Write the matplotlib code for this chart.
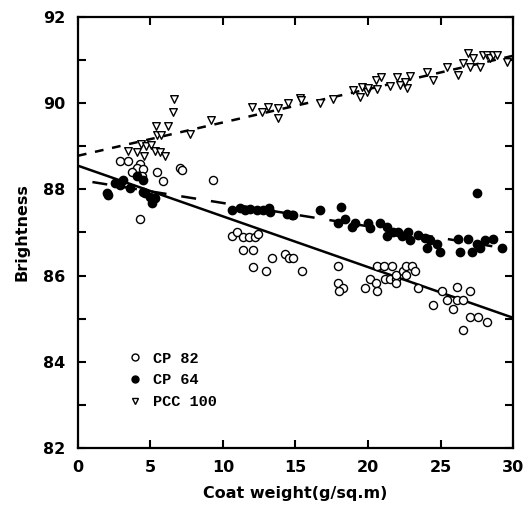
import matplotlib
matplotlib.use("Agg")
import matplotlib.pyplot as plt
from matplotlib.lines import Line2D

# ---------------- data ----------------
pcc_x = [3.47, 4.05, 4.32, 4.55, 4.69, 5.01, 5.31, 5.66, 6.00, 5.38, 6.18, 5.47, 5.70,
         6.57, 6.60, 7.72, 9.20, 11.98, 12.67, 13.13, 13.81, 13.80, 14.50, 15.30, 15.40,
         16.70, 17.60, 19.00, 19.45, 19.56, 19.91, 20.02, 20.60, 20.55, 20.88, 21.50,
         21.98, 22.20, 22.67, 22.55, 22.90, 24.05, 24.46, 25.43, 26.23, 26.57, 26.92,
         27.03, 27.22, 27.72, 27.95, 28.19, 28.41, 28.64, 28.88, 29.57]
pcc_y = [88.90, 88.87, 89.05, 88.77, 89.00, 89.02, 88.90, 88.87, 88.77, 89.47, 89.47, 89.27, 89.27,
         89.80, 90.10, 89.29, 89.60, 89.92, 89.80, 89.92, 89.90, 89.65, 90.00, 90.11, 90.07,
         90.01, 90.10, 90.31, 90.14, 90.38, 90.27, 90.35, 90.32, 90.54, 90.61, 90.40,
         90.61, 90.42, 90.35, 90.50, 90.63, 90.73, 90.54, 90.83, 90.65, 90.94, 91.16,
         90.85, 91.04, 90.85, 91.12, 91.12, 91.04, 91.12, 91.12, 90.96]

cp82_x = [2.90, 3.47, 4.28, 4.05, 4.50, 3.70, 4.39, 5.43, 5.88, 7.03, 7.15, 4.28, 9.33,
          10.60, 10.94, 11.40, 11.80, 12.20, 12.43, 11.36, 12.09, 13.36, 14.28, 14.57, 14.81,
          12.09, 12.97, 15.43, 17.95, 17.91, 18.30, 18.02, 19.79, 20.14, 20.55, 20.64,
          20.64, 21.10, 21.63, 21.17, 21.52, 21.93, 21.93, 21.93, 22.39, 22.62, 23.06,
          23.24, 22.62, 23.47, 24.46, 25.08, 25.43, 25.89, 26.12, 26.12, 26.57, 27.03,
          26.53, 27.03, 27.60, 28.19]
cp82_y = [88.67, 88.67, 88.60, 88.49, 88.47, 88.41, 88.30, 88.41, 88.20, 88.49, 88.45, 87.31, 88.22,
          86.92, 87.00, 86.90, 86.90, 86.90, 86.97, 86.59, 86.59, 86.40, 86.50, 86.40, 86.40,
          86.19, 86.11, 86.11, 86.22, 85.82, 85.71, 85.63, 85.71, 85.91, 85.82, 85.63,
          86.22, 86.22, 86.22, 85.91, 85.91, 85.91, 85.82, 86.01, 86.11, 86.22, 86.22,
          86.11, 86.01, 85.71, 85.32, 85.63, 85.43, 85.23, 85.73, 85.43, 85.43, 85.63,
          84.74, 85.03, 85.03, 84.93]

cp64_x = [1.98, 2.09, 2.55, 2.90, 3.12, 3.59, 4.05, 4.50, 4.50, 4.62, 4.97, 5.31, 5.08,
          10.60, 11.17, 11.52, 11.86, 12.32, 12.78, 13.20, 13.24, 14.39, 14.74, 14.85,
          16.69, 18.11, 17.95, 18.41, 18.87, 19.10, 20.02, 20.14, 20.83, 21.29, 21.29,
          21.75, 22.09, 22.32, 22.78, 22.90, 23.47, 23.93, 24.28, 24.05, 24.74, 24.97,
          26.23, 26.34, 26.92, 27.15, 27.49, 27.72, 28.07, 28.64, 29.22, 27.54]
cp64_y = [87.91, 87.87, 88.14, 88.10, 88.22, 88.03, 88.30, 88.22, 87.95, 87.91, 87.83, 87.79, 87.69,
          87.51, 87.56, 87.52, 87.54, 87.51, 87.52, 87.56, 87.48, 87.43, 87.41, 87.41,
          87.52, 87.60, 87.23, 87.31, 87.13, 87.23, 87.23, 87.10, 87.23, 87.12, 86.92,
          87.02, 87.02, 86.92, 87.02, 86.83, 86.94, 86.87, 86.83, 86.63, 86.73, 86.55,
          86.84, 86.55, 86.84, 86.55, 86.73, 86.63, 86.83, 86.84, 86.63, 87.92]

# fitted lines (end points)
pcc_line_x = [0, 30]
pcc_line_y = [88.78, 91.10]
cp82_line_x = [0, 30]
cp82_line_y = [88.55, 85.02]
cp64_line_x = [1.0, 29.5]
cp64_line_y = [88.17, 86.63]

labels = ["CP 82", "CP 64", "PCC 100"]
x_ticks = [0, 5, 10, 15, 20, 25, 30]
y_ticks = [82, 83, 84, 85, 86, 87, 88, 89, 90, 91, 92]
y_ticklabels = ["82", "", "84", "", "86", "", "88", "", "90", "", "92"]

# ---------------- figure ----------------
fig = plt.figure(figsize=(5.30, 5.16), dpi=100)
ax = fig.add_axes([0.147, 0.132, 0.821, 0.835])

ax.plot(pcc_line_x, pcc_line_y, color="black", lw=1.8, dashes=(3.5, 3.5))
ax.plot(cp82_line_x, cp82_line_y, color="black", lw=1.8)
ax.plot(cp64_line_x, cp64_line_y, color="black", lw=1.8, dashes=(6, 6))

ax.scatter(cp82_x, cp82_y, s=34, facecolors="white", edgecolors="black", linewidths=1.0, zorder=3)
ax.scatter(cp64_x, cp64_y, s=36, facecolors="black", edgecolors="black", linewidths=1.0, zorder=3)
ax.scatter(pcc_x, pcc_y, s=30, marker="v", facecolors="white", edgecolors="black", linewidths=1.0, zorder=3)

ax.set_xlim(0, 30)
ax.set_ylim(82, 92)
ax.set_xticks(x_ticks)
ax.set_yticks(y_ticks)
ax.set_yticklabels(y_ticklabels)
ax.tick_params(direction="in", top=True, right=True, length=6, width=1.5,
               labelsize=11.5, pad=9)
for lab in ax.get_xticklabels() + ax.get_yticklabels():
    lab.set_fontweight("bold")
for sp in ax.spines.values():
    sp.set_linewidth(1.6)

ax.set_xlabel("Coat weight(g/sq.m)", fontsize=11.5, fontweight="bold", labelpad=8)
ax.set_ylabel("Brightness", fontsize=11.5, fontweight="bold", labelpad=10)

handles = [
    Line2D([], [], ls="none", marker="o", ms=5, mfc="white", mec="black", mew=1.0),
    Line2D([], [], ls="none", marker="o", ms=5, mfc="black", mec="black", mew=1.0),
    Line2D([], [], ls="none", marker="v", ms=5, mfc="white", mec="black", mew=1.0),
]
ax.legend(handles, labels, loc="upper left", bbox_to_anchor=(0.085, 0.255),
          frameon=False, handlelength=0.8, handletextpad=0.8, labelspacing=0.5,
          prop={"family": "Liberation Mono", "weight": "bold", "size": 11})

fig.savefig("out.png", dpi=100)
